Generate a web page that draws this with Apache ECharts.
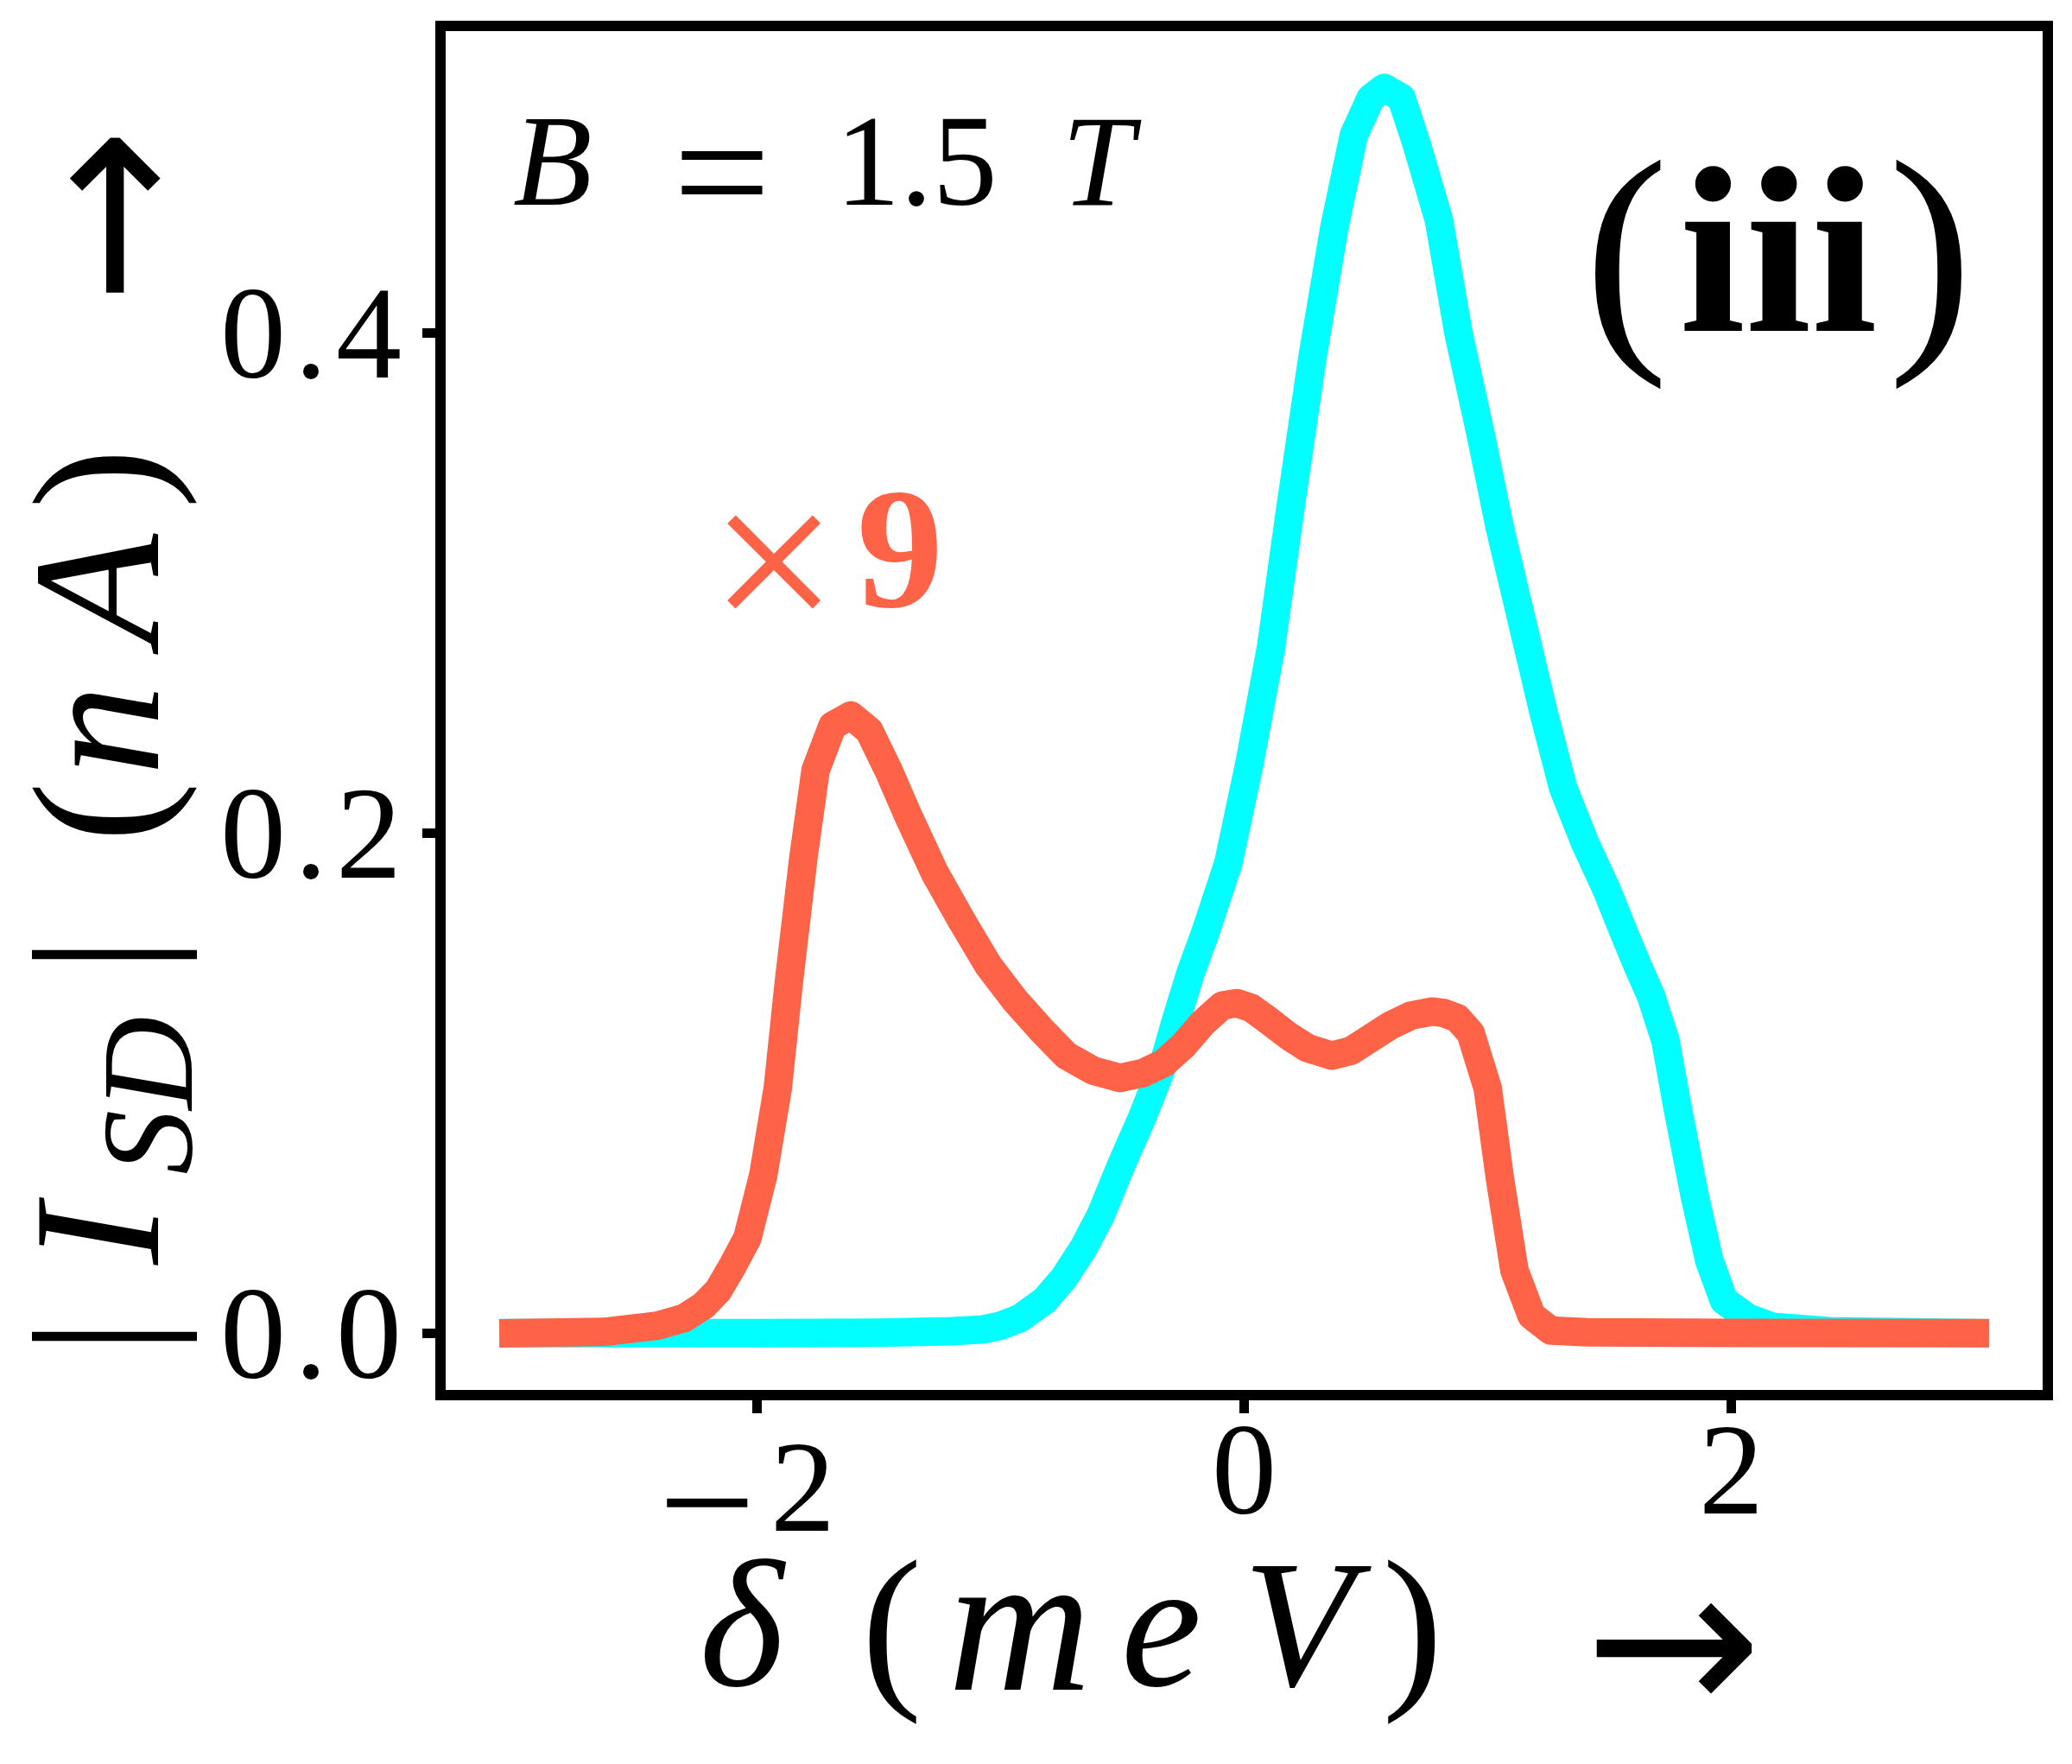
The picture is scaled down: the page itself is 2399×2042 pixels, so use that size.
<!DOCTYPE html>
<html>
<head>
<meta charset="utf-8">
<title>ISD vs delta, B = 1.5 T</title>
<script src="https://cdn.jsdelivr.net/npm/echarts@6/dist/echarts.min.js"></script>
<style>
html, body { margin: 0; padding: 0; background: #fff; }
#chart { width: 2399px; height: 2042px; }
</style>
</head>
<body>
<div id="chart"></div>
<script>
// cyan curve: |I_SD| (nA) vs delta (meV)
const cyanX = [-3.0, -2.0, -1.5, -1.2, -1.07, -1.0, -0.92, -0.82, -0.74, -0.66, -0.59, -0.51, -0.42, -0.33, -0.28, -0.22, -0.16, -0.065, 0.02, 0.11, 0.19, 0.28, 0.37, 0.45, 0.52, 0.575, 0.646, 0.71, 0.80, 0.88, 0.97, 1.05, 1.14, 1.23, 1.31, 1.40, 1.49, 1.56, 1.62, 1.67, 1.73, 1.78, 1.85, 1.91, 1.97, 2.07, 2.17, 2.40, 3.0]
const cyanY = [0, 0, 0.0002, 0.0008, 0.0015, 0.003, 0.006, 0.013, 0.022, 0.034, 0.047, 0.066, 0.086, 0.108, 0.125, 0.144, 0.160, 0.188, 0.227, 0.274, 0.33, 0.39, 0.442, 0.479, 0.494, 0.498, 0.494, 0.475, 0.445, 0.40, 0.36, 0.322, 0.285, 0.248, 0.218, 0.196, 0.177, 0.160, 0.146, 0.135, 0.117, 0.090, 0.055, 0.029, 0.013, 0.006, 0.0025, 0.0008, 0]

// tomato curve (already multiplied by 9)
const redX = [-3.0, -2.63, -2.41, -2.30, -2.22, -2.16, -2.10, -2.04, -1.975, -1.915, -1.87, -1.81, -1.76, -1.69, -1.615, -1.54, -1.46, -1.38, -1.27, -1.16, -1.05, -0.94, -0.83, -0.73, -0.62, -0.51, -0.416, -0.33, -0.25, -0.17, -0.09, -0.03, 0.03, 0.10, 0.18, 0.26, 0.36, 0.44, 0.52, 0.60, 0.685, 0.77, 0.82, 0.875, 0.93, 1.0, 1.05, 1.11, 1.18, 1.26, 1.41, 2.0, 3.0]
const redY = [0, 0.0005, 0.003, 0.006, 0.011, 0.017, 0.027, 0.038, 0.063, 0.098, 0.140, 0.19, 0.225, 0.243, 0.247, 0.241, 0.225, 0.207, 0.184, 0.165, 0.147, 0.133, 0.121, 0.111, 0.105, 0.102, 0.104, 0.108, 0.115, 0.124, 0.131, 0.132, 0.130, 0.125, 0.119, 0.114, 0.111, 0.113, 0.118, 0.123, 0.127, 0.1286, 0.128, 0.126, 0.120, 0.098, 0.062, 0.025, 0.007, 0.001, 0.0003, 0.0001, 0]

const xTicks = [-2, 0, 2]
const yTicks = [0, 0.2, 0.4]

const serif = '"Liberation Serif", "DejaVu Serif", serif'
const arrowFont = '"DejaVu Sans", sans-serif'

function pairs (xs, ys) {
  return xs.map((x, i) => [x, ys[i]])
}

// one rich-text style per glyph, centred in its own box
function tok (width, extra) {
  return Object.assign({
    width: width,
    align: 'center',
    verticalAlign: 'middle',
    fontFamily: serif,
    fontSize: 210,
    lineHeight: 210,
    color: '#000'
  }, extra || {})
}

function tickTok (width, size, padTop) {
  return {
    width: width,
    align: 'center',
    verticalAlign: 'middle',
    fontFamily: serif,
    fontSize: size,
    lineHeight: 150,
    padding: [padTop, 0, 0, 0],
    color: '#000'
  }
}

const chart = echarts.init(document.getElementById('chart'))

chart.setOption({
  animation: false,
  backgroundColor: '#fff',
  grid: {
    left: 510,
    right: 28,
    top: 30,
    bottom: 427,
    containLabel: false,
    outerBoundsMode: 'none',
    show: true,
    borderColor: '#000',
    borderWidth: 12
  },
  xAxis: {
    type: 'value',
    min: -3.3,
    max: 3.3,
    axisLine: { show: true, onZero: false, lineStyle: { color: '#000', width: 12 } },
    axisTick: { show: true, customValues: xTicks, length: 21, lineStyle: { color: '#000', width: 11 } },
    axisLabel: {
      customValues: xTicks,
      margin: 23,
      fontFamily: serif,
      fontSize: 150,
      color: '#000',
      formatter: v => (v < 0 ? '{m|\u2212}{n|' + Math.abs(v) + '}' : '{p|' + v + '}'),
      rich: {
        m: tickTok(106, 200, 80),
        n: tickTok(116, 150, 40),
        p: { fontFamily: serif, fontSize: 150, lineHeight: 150, color: '#000' }
      }
    },
    splitLine: { show: false },
    name: '{sp| }{d|δ}{lp|(}{m|m}{e|e}{v|V}{rp|)}{ar|→}',
    nameLocation: 'middle',
    nameGap: 176,
    nameMoveOverlap: false,
    nameTextStyle: {
      rich: {
        sp: tok(54),
        d: tok(120, { fontStyle: 'italic' }),
        lp: tok(228),
        m: tok(68, { fontStyle: 'italic', fontSize: 230 }),
        e: tok(260, { fontStyle: 'italic' }),
        v: tok(58, { fontStyle: 'italic' }),
        rp: tok(206),
        ar: tok(398, { fontFamily: arrowFont, fontSize: 245, lineHeight: 160, padding: [50, 0, 0, 0] })
      }
    }
  },
  yAxis: {
    type: 'value',
    min: -0.0248,
    max: 0.5228,
    axisLine: { show: true, onZero: false, lineStyle: { color: '#000', width: 12 } },
    axisTick: { show: true, customValues: yTicks, length: 21, lineStyle: { color: '#000', width: 11 } },
    axisLabel: {
      customValues: yTicks,
      margin: 36,
      fontFamily: serif,
      fontSize: 152,
      color: '#000',
      formatter: v => {
        const s = v.toFixed(1)
        return '{a|' + s[0] + '}{b|.}{c|' + s[2] + '}'
      },
      rich: {
        a: tickTok(94, 152, 23),
        b: tickTok(40, 152, 23),
        c: tickTok(94, 152, 23)
      }
    },
    splitLine: { show: false },
    name: '{sp| }{b1||}{i|I}{sd|SD}{b2||}{lp|(}{n|n}{a|A}{rp|)}{ar|→}',
    nameLocation: 'middle',
    nameRotate: 90,
    nameGap: 277,
    nameMoveOverlap: false,
    nameTextStyle: {
      rich: {
        sp: tok(137),
        b1: tok(10),
        i: tok(226, { fontStyle: 'italic' }),
        sd: tok(96, { fontStyle: 'italic', fontSize: 150, lineHeight: 100, padding: [110, 0, 0, 0] }),
        b2: tok(230),
        lp: tok(100),
        n: tok(90, { fontStyle: 'italic' }),
        a: tok(236, { fontStyle: 'italic' }),
        rp: tok(20),
        ar: tok(588, { fontFamily: arrowFont, fontSize: 245, lineHeight: 174, padding: [36, 0, 0, 0] })
      }
    }
  },
  graphic: [
    { type: 'text', x: 594, y: 198, style: { text: 'B', font: 'italic 150px ' + serif, fill: '#000', align: 'left', verticalAlign: 'middle' } },
    { type: 'text', x: 836, y: 213, style: { text: '=', font: '200px ' + serif, fill: '#000', align: 'center', verticalAlign: 'middle' } },
    { type: 'text', x: 1061, y: 198, style: { text: '1.5', font: '150px ' + serif, fill: '#000', align: 'center', verticalAlign: 'middle' } },
    { type: 'text', x: 1271, y: 198, style: { text: 'T', font: 'italic 150px ' + serif, fill: '#000', align: 'center', verticalAlign: 'middle' } },
    { type: 'text', x: 1883, y: 311, style: { text: '(', font: '293px ' + serif, fill: '#000', align: 'center', verticalAlign: 'middle' } },
    { type: 'text', x: 2059, y: 312, style: { text: 'iii', font: 'bold 275px ' + serif, fill: '#000', align: 'center', verticalAlign: 'middle' } },
    { type: 'text', x: 2235, y: 311, style: { text: ')', font: '293px ' + serif, fill: '#000', align: 'center', verticalAlign: 'middle' } },
    { type: 'text', x: 896, y: 669, style: { text: '×', font: '265px ' + serif, fill: '#FF6347', align: 'center', verticalAlign: 'middle' } },
    { type: 'text', x: 1042, y: 650, style: { text: '9', font: 'bold 200px ' + serif, fill: '#FF6347', align: 'center', verticalAlign: 'middle' } }
  ],
  series: [
    {
      name: 'cyan',
      type: 'line',
      data: pairs(cyanX, cyanY),
      showSymbol: false,
      lineStyle: { color: '#00FFFF', width: 33, cap: 'square', join: 'round' },
      z: 2
    },
    {
      name: 'tomato',
      type: 'line',
      data: pairs(redX, redY),
      showSymbol: false,
      lineStyle: { color: '#FF6347', width: 33, cap: 'square', join: 'round' },
      z: 3
    }
  ]
})
</script>
</body>
</html>
